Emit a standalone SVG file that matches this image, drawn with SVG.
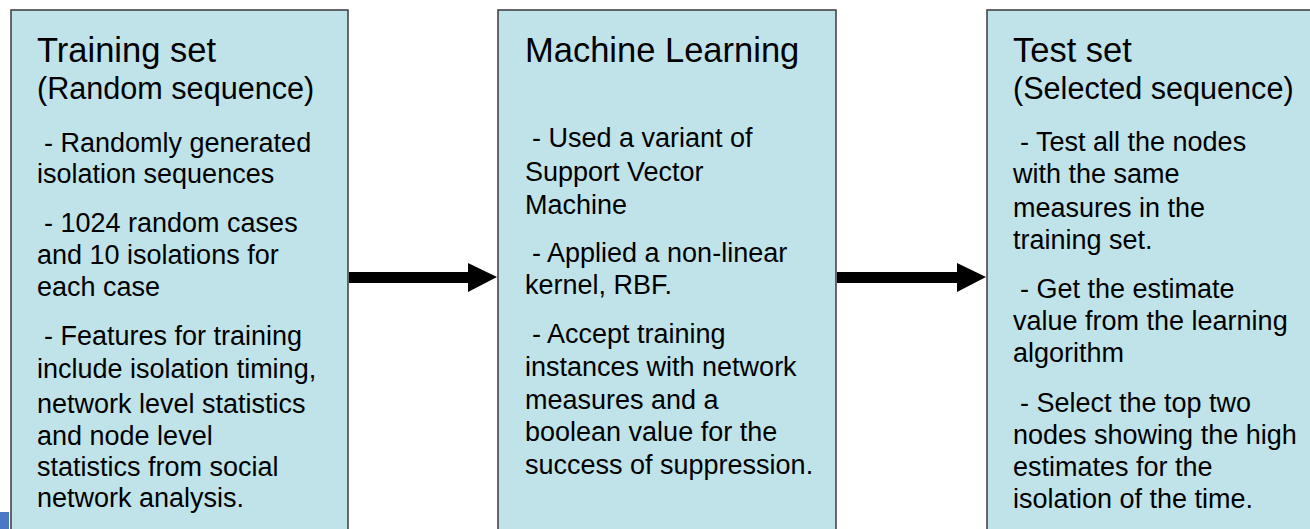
<svg xmlns="http://www.w3.org/2000/svg" width="1310" height="529" viewBox="0 0 1310 529">
<style>
.box{fill:#c0e3e9;stroke:#3a3a3a;stroke-width:1.5}
text{font-family:"Liberation Sans",Arial,sans-serif;fill:#000}
.t{font-size:34.5px}
.s{font-size:30.6px}
.b{font-size:27px}
.arr{fill:#000}
</style>
<rect width="1310" height="529" fill="#fff"/>
<rect x="0" y="512" width="9" height="17" fill="#4a78c6"/>
<g id="training">
<rect class="box" x="11" y="10" width="337" height="530"/>
<text class="t" x="37" y="62">Training set</text>
<text class="s" x="37" y="99">(Random sequence)</text>
<text class="b" x="44" y="152">- Randomly generated</text>
<text class="b" x="37" y="183">isolation sequences</text>
<text class="b" x="44" y="232">- 1024 random cases</text>
<text class="b" x="37" y="264">and 10 isolations for</text>
<text class="b" x="37" y="296">each case</text>
<text class="b" x="44" y="345">- Features for training</text>
<text class="b" x="37" y="378">include isolation timing,</text>
<text class="b" x="37" y="413">network level statistics</text>
<text class="b" x="37" y="445">and node level</text>
<text class="b" x="37" y="476">statistics from social</text>
<text class="b" x="37" y="507">network analysis.</text>
</g>
<g id="ml">
<rect class="box" x="498" y="10" width="338" height="530"/>
<text class="t" x="525" y="62">Machine Learning</text>
<text class="b" x="532" y="147">- Used a variant of</text>
<text class="b" x="525" y="181">Support Vector</text>
<text class="b" x="525" y="214">Machine</text>
<text class="b" x="532" y="262">- Applied a non-linear</text>
<text class="b" x="525" y="294">kernel, RBF.</text>
<text class="b" x="532" y="343">- Accept training</text>
<text class="b" x="525" y="376">instances with network</text>
<text class="b" x="525" y="409">measures and a</text>
<text class="b" x="525" y="441">boolean value for the</text>
<text class="b" x="525" y="474">success of suppression.</text>
</g>
<g id="test">
<rect class="box" x="987" y="10" width="340" height="530"/>
<text class="t" x="1013" y="62">Test set</text>
<text class="s" x="1013" y="99">(Selected sequence)</text>
<text class="b" x="1020" y="151">- Test all the nodes</text>
<text class="b" x="1013" y="183">with the same</text>
<text class="b" x="1013" y="217">measures in the</text>
<text class="b" x="1013" y="249">training set.</text>
<text class="b" x="1020" y="298">- Get the estimate</text>
<text class="b" x="1013" y="330">value from the learning</text>
<text class="b" x="1013" y="362">algorithm</text>
<text class="b" x="1020" y="412">- Select the top two</text>
<text class="b" x="1013" y="444">nodes showing the high</text>
<text class="b" x="1013" y="476">estimates for the</text>
<text class="b" x="1013" y="508">isolation of the time.</text>
</g>
<g id="connectors">
<polygon class="arr" points="349,272 468,272 468,263 497,277 468,292 468,283 349,283"/>
<polygon class="arr" points="837,272 957,272 957,263 986,277 957,292 957,283 837,283"/>
</g>
</svg>
